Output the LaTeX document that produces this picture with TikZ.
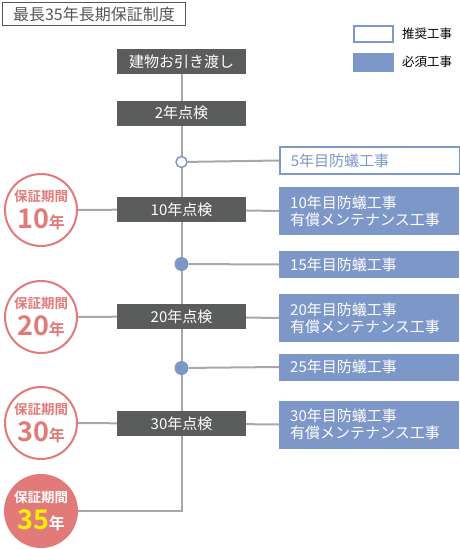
\documentclass[tikz,border=0pt]{standalone}
\usepackage{fontspec}
\setmainfont{Noto Sans CJK JP}[BoldFont={Noto Sans CJK JP Bold}]
\usetikzlibrary{backgrounds}
\definecolor{checkgray}{HTML}{5B5C5C}
\definecolor{workblue}{HTML}{7D97C8}
\definecolor{salmon}{HTML}{E27A7A}
\definecolor{linegray}{HTML}{A8A8A8}
\definecolor{titlegray}{HTML}{555555}

\begin{document}
\begin{tikzpicture}[x=1pt, y=-1pt,
    check/.style={
        fill=checkgray,
        text=white,
        minimum width=129,
        minimum height=25,
        inner sep=0pt,
        font=\fontsize{15}{15}\selectfont
    },
    work/.style={
        anchor=west,
        fill=workblue,
        text=white,
        minimum width=180,
        text width=158,
        align=left,
        inner xsep=11,
        inner ysep=0pt,
        font=\fontsize{15}{17}\selectfont
    },
    worktwo/.style={work, minimum height=48},
    workone/.style={work, minimum height=27},
    option/.style={workone, fill=white, text=workblue, draw=workblue, line width=1.5},
    period/.style={
        circle,
        draw=salmon,
        line width=2,
        fill=white,
        text=salmon,
        minimum size=72,
        inner sep=0pt,
        align=center,
        font=\fontsize{13.5}{17}\bfseries
    },
    dot/.style={circle, fill=workblue, minimum size=14, inner sep=0pt},
    opendot/.style={circle, draw=workblue, line width=1.5, fill=white, minimum size=11, inner sep=0pt},
    link/.style={draw=linegray, line width=2}
]
\useasboundingbox (0,0) rectangle (460,549);

% title and legend
\node[draw=titlegray, line width=1.5, minimum width=183, minimum height=23, inner sep=0pt,
      text=titlegray, font=\fontsize{16}{16}\selectfont] (title) at (94,14) {最長35年長期保証制度};
\node[draw=workblue, line width=2, fill=white, minimum width=39, minimum height=16, inner sep=0pt] (keyopt) at (373.5,34) {};
\node[anchor=west, font=\fontsize{12.5}{12.5}\selectfont, inner sep=0pt] (keyopttxt) at (402,34) {推奨工事};
\node[fill=workblue, minimum width=41, minimum height=19, inner sep=0pt] (keyreq) at (373.5,62.5) {};
\node[anchor=west, font=\fontsize{12.5}{12.5}\selectfont, inner sep=0pt] (keyreqtxt) at (402,62) {必須工事};

% inspections
\node[check] (hand) at (181.5,61.5) {建物お引き渡し};
\node[check] (ins2) at (181.5,113) {2年点検};
\node[check] (ins10) at (181.5,209.5) {10年点検};
\node[check] (ins20) at (181.5,316.5) {20年点検};
\node[check] (ins30) at (181.5,423.5) {30年点検};

% works
\node[opendot] (dot5) at (181.5,162) {};
\node[dot] (dot15) at (181.5,264) {};
\node[dot] (dot25) at (181.5,368) {};
\node[option] (work5) at (279,160.5) {5年目防蟻工事};
\node[worktwo] (work10) at (279,211) {10年目防蟻工事\\有償メンテナンス工事};
\node[workone] (work15) at (279,264.5) {15年目防蟻工事};
\node[worktwo] (work20) at (279,318) {20年目防蟻工事\\有償メンテナンス工事};
\node[workone] (work25) at (279,367) {25年目防蟻工事};
\node[worktwo] (work30) at (279,424.5) {30年目防蟻工事\\有償メンテナンス工事};

% warranty periods
\node[period] (per10) at (41,210) {保証期間\\[4pt]{\fontsize{27}{20}\selectfont 10}{\fontsize{16}{16}\selectfont 年}};
\node[period] (per20) at (41,317) {保証期間\\[4pt]{\fontsize{27}{20}\selectfont 20}{\fontsize{16}{16}\selectfont 年}};
\node[period] (per30) at (41,423) {保証期間\\[4pt]{\fontsize{27}{20}\selectfont 30}{\fontsize{16}{16}\selectfont 年}};
\node[period, fill=salmon, text=white] (per35) at (41,511) {保証期間\\[4pt]{\fontsize{27}{20}\selectfont\color{yellow}35}{\fontsize{16}{16}\selectfont 年}};

\begin{scope}[on background layer]
\draw[link] (hand.south) |- (per35.east);
\draw[link] (dot5) -- (work5.west);
\draw[link] (ins10) -- (work10.west);
\draw[link] (dot15) -- (work15.west);
\draw[link] (ins20) -- (work20.west);
\draw[link] (dot25) -- (work25.west);
\draw[link] (ins30) -- (work30.west);
\draw[link] (per10) -- (ins10);
\draw[link] (per20) -- (ins20);
\draw[link] (per30) -- (ins30);
\end{scope}
\end{tikzpicture}
\end{document}
